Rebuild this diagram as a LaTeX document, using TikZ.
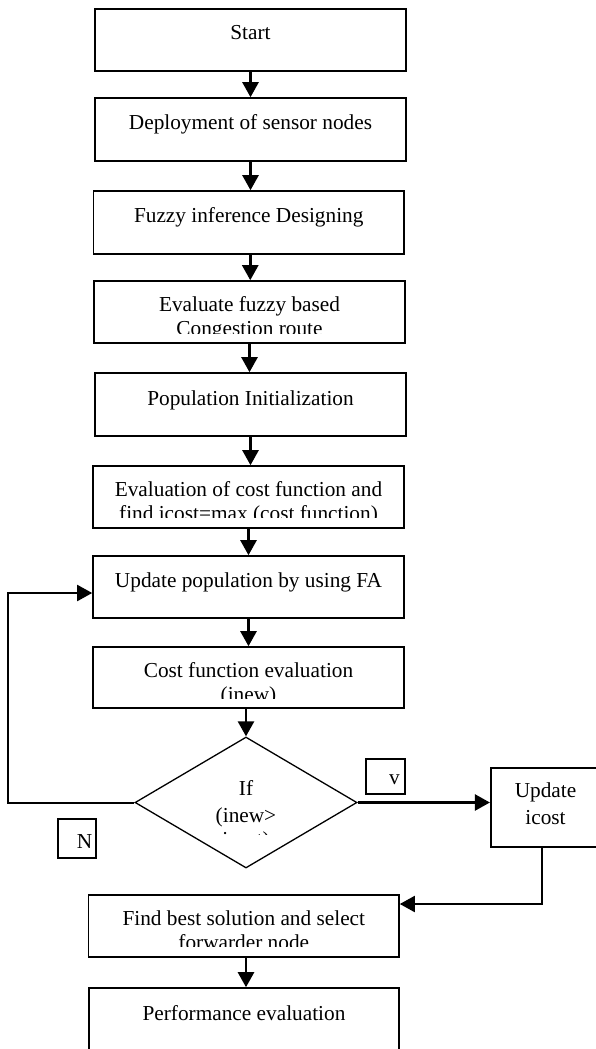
\documentclass[tikz,border=0pt]{standalone}
\usepackage{fontspec}
\setmainfont{Liberation Serif}
\usetikzlibrary{arrows.meta,shapes.geometric}
\begin{document}
\begin{tikzpicture}[x=1pt,y=-1pt,
  box/.style={draw, line width=1.6pt, inner sep=0pt},
  smallbox/.style={draw, line width=1.3pt, inner sep=0pt},
  txt/.style={font=\fontsize{21.3}{24}\selectfont, anchor=base, inner sep=0pt},
  arr/.style={line width=2.5pt, -{Triangle[length=15pt,width=16pt]}},
  link/.style={line width=2pt}
]
\useasboundingbox (0,0) rectangle (596,1049);
% boxes
\node[box, minimum width=311pt, minimum height=62pt] (start) at (250.5,40) {};
\node[box, minimum width=311pt, minimum height=63pt] (deploy) at (250.5,129.5) {};
\node[box, minimum width=310.5pt, minimum height=63pt] (fuzzy) at (248.75,222.5) {};
\node[box, minimum width=311pt, minimum height=62pt] (evalf) at (249.5,312) {};
\node[box, minimum width=311pt, minimum height=63pt] (pop) at (250.5,404.5) {};
\node[box, minimum width=311pt, minimum height=62pt] (evalc) at (248.5,497) {};
\node[box, minimum width=311pt, minimum height=62pt] (updpop) at (248.5,587) {};
\node[box, minimum width=311pt, minimum height=61pt] (cost) at (248.5,677.5) {};
\node[draw, diamond, line width=1.3pt, inner sep=0pt, minimum width=222pt, minimum height=131pt] (dia) at (246,802.5) {};
\node[box, minimum width=109.3pt, minimum height=79pt] (icost) at (545.35,807.5) {};
\node[box, minimum width=310.4pt, minimum height=62pt] (find) at (243.8,926) {};
\node[box, minimum width=310pt, minimum height=72pt] (perf) at (244,1024) {};
\node[smallbox, minimum width=39pt, minimum height=35pt] (ybox) at (385.5,776.5) {};
\node[smallbox, minimum width=38pt, minimum height=39pt] (nbox) at (77,838.5) {};
% texts
\node[txt] (t1) at (250.5,40) {Start};
\node[txt] (t2) at (250.5,129.3) {Deployment of sensor nodes};
\node[txt] (t3) at (248.75,222.7) {Fuzzy inference Designing};
\node[txt] (t4a) at (249.5,311) {Evaluate fuzzy based};
\begin{scope}
\clip (90,300) rectangle (410,333);
\node[txt] (t4b) at (249.5,335) {Congestion route};
\end{scope}
\node[txt] (t5) at (250.5,405) {Population Initialization};
\node[txt] (t6a) at (248.5,496.7) {Evaluation of cost function and};
\begin{scope}
\clip (90,500) rectangle (410,517.3);
\node[txt] (t6b) at (248.5,520.7) {find icost=max (cost function)};
\end{scope}
\node[txt] (t7) at (248.5,587) {Update population by using FA};
\node[txt] (t8a) at (248.5,677) {Cost function evaluation};
\begin{scope}
\clip (90,680) rectangle (410,698);
\node[txt] (t8b) at (248.5,701) {(inew)};
\end{scope}
\node[txt] (t9a) at (246,795) {If};
\node[txt] (t9b) at (246,822) {(inew>};
\begin{scope}
\clip (180,826) rectangle (320,834);
\node[txt] (t9c) at (246,846) {icost)};
\end{scope}
\node[txt] (t10a) at (545.5,797.7) {Update};
\node[txt] (t10b) at (545.5,824) {icost};
\node[txt] (t11a) at (243.8,925) {Find best solution and select};
\begin{scope}
\clip (90,930) rectangle (400,946.7);
\node[txt] (t11b) at (243.8,949) {forwarder node};
\end{scope}
\node[txt] (t12) at (244,1020) {Performance evaluation};
\node[txt] (tv) at (394.5,784) {v};
\node[txt] (tn) at (84.5,848) {N};
% connectors
\draw[arr] (start.south) -- (start.south |- deploy.north);
\draw[arr] (deploy.south) -- (deploy.south |- fuzzy.north);
\draw[arr] ([xshift=1.5pt]fuzzy.south) -- ([xshift=1.5pt]fuzzy.south |- evalf.north);
\draw[arr] (evalf.south) -- (evalf.south |- pop.north);
\draw[arr] (pop.south) -- (pop.south |- evalc.north);
\draw[arr] (evalc.south) -- (evalc.south |- updpop.north);
\draw[arr] (updpop.south) -- (updpop.south |- cost.north);
\draw[arr] (cost.south -| dia.north) -- (dia.north);
\coordinate (fbl) at (8,802.5);
\coordinate (fbt) at (8,593);
\draw[arr, link] (dia.west) -- (fbl) -- (fbt) -- (fbt -| updpop.west);
\draw[arr] (dia.east) -- (dia.east -| icost.west);
\coordinate (icd) at (542,904);
\draw[arr, link] (icost.south -| icd) -- (icd) -- (icd -| find.east);
\draw[arr] (find.south -| dia.south) -- (dia.south |- perf.north);
\end{tikzpicture}
\end{document}
